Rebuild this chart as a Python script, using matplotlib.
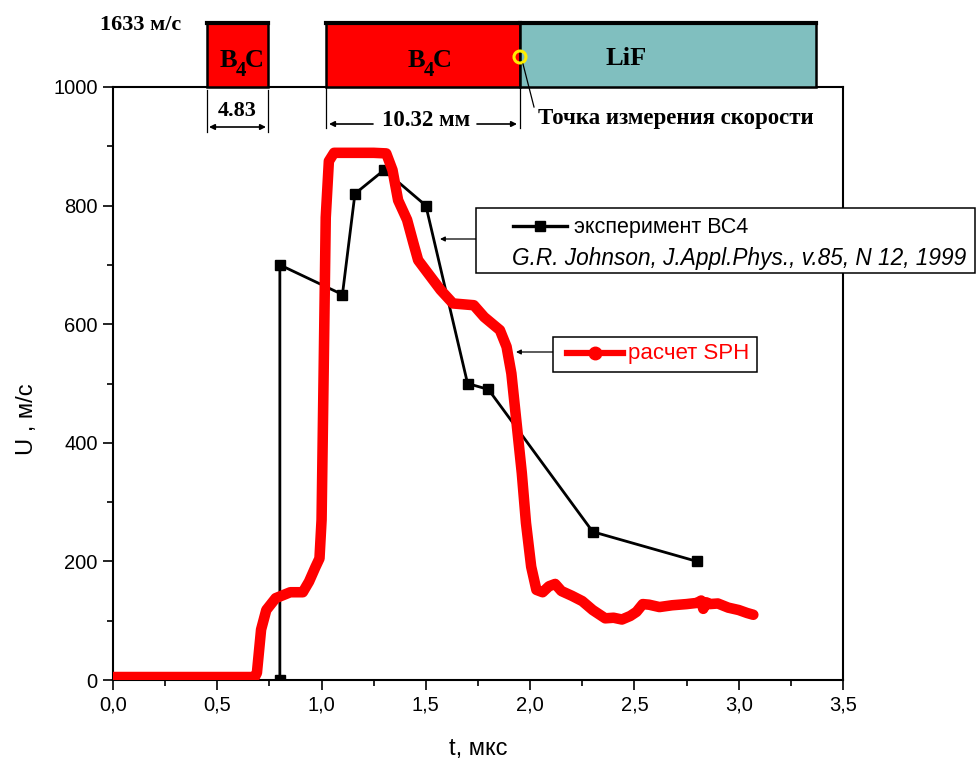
"""Скорость свободной поверхности: эксперимент BC4 и расчет SPH."""

import matplotlib
matplotlib.use("Agg")
import matplotlib.pyplot as plt
from matplotlib.patches import Rectangle, Circle, FancyArrowPatch
from matplotlib.lines import Line2D
from matplotlib.transforms import Affine2D

# experiment (G.R. Johnson, 1999)
t_exp = [0.80, 0.80, 1.10, 1.16, 1.30, 1.50, 1.70, 1.80, 2.30, 2.80]
u_exp = [0, 700, 650, 820, 860, 800, 500, 490, 250, 200]

# SPH calculation
t_sph = [0.00, 0.68, 0.69, 0.71, 0.735, 0.78, 0.85, 0.91, 0.94, 0.97,
         0.99, 1.00, 1.01, 1.02, 1.035, 1.06, 1.15, 1.25, 1.31, 1.34,
         1.367, 1.41, 1.44, 1.463, 1.51, 1.57, 1.63, 1.73, 1.78, 1.855,
         1.887, 1.91, 1.935, 1.96, 1.98, 2.005, 2.03, 2.06, 2.09, 2.12,
         2.15, 2.20, 2.25, 2.30, 2.36, 2.40, 2.44, 2.48, 2.51, 2.54,
         2.57, 2.62, 2.68, 2.75, 2.80, 2.82, 2.83, 2.845, 2.86, 2.90,
         2.95, 3.00, 3.04, 3.07]
u_sph = [5, 5, 12, 85, 118, 138, 148, 148, 166, 190,
         205, 270, 520, 780, 875, 889, 889, 889, 888, 860,
         809, 776, 737, 708, 686, 658, 635, 632, 612, 590,
         562, 517, 433, 349, 265, 191, 152, 148, 158, 162,
         150, 142, 133, 118, 104, 105, 102, 108, 115, 128,
         127, 123, 126, 128, 130, 134, 120, 131, 128, 129,
         122, 118, 113, 110]

x_ticks = [0.0, 0.5, 1.0, 1.5, 2.0, 2.5, 3.0, 3.5]
x_ticklabels = ["0,0", "0,5", "1,0", "1,5", "2,0", "2,5", "3,0", "3,5"]
y_ticks = [0, 200, 400, 600, 800, 1000]

SANS = "Liberation Sans"
SERIF = "Liberation Serif"

fig = plt.figure(figsize=(9.77, 7.67), dpi=100)
ax = fig.add_axes([113 / 977, 1 - 680 / 767, 730 / 977, 593 / 767])
# image pixel coordinates (origin top-left) for the decorations
pix = Affine2D().scale(1 / 977, -1 / 767).translate(0, 1) + fig.transFigure

ax.plot(t_exp, u_exp, color="black", lw=2.0, marker="s", ms=7, zorder=3)
ax.plot(t_sph, u_sph, color="red", lw=7.6, solid_capstyle="round",
        solid_joinstyle="round", zorder=4)

ax.set_xlim(0, 3.5)
ax.set_ylim(0, 1000)
ax.set_xticks(x_ticks)
ax.set_xticklabels(x_ticklabels)
ax.set_yticks(y_ticks)
ax.set_xticks([0.25, 0.75, 1.25, 1.75, 2.25, 2.75, 3.25], minor=True)
ax.set_yticks([100, 300, 500, 700, 900], minor=True)
ax.tick_params(which="both", direction="out", top=False, right=False,
               labelsize=14.5, width=1.2)
ax.tick_params(which="major", length=7.5)
ax.tick_params(which="minor", length=4)
for lab in ax.get_xticklabels() + ax.get_yticklabels():
    lab.set_family(SANS)
for sp in ax.spines.values():
    sp.set_linewidth(1.5)
ax.set_xlabel("t, мкс", fontsize=17, family=SANS)
ax.xaxis.set_label_coords(0.501, -0.098)
ax.set_ylabel("U , м/с", fontsize=17, family=SANS)
ax.yaxis.set_label_coords(-0.103, 0.44)

# ---- sample sketch above the plot ----
def box(x0, x1, color):
    fig.add_artist(Rectangle((x0, 87), x1 - x0, -65, transform=pix,
                             facecolor=color, edgecolor="black", lw=1.8))
    fig.add_artist(Line2D([x0, x1], [23, 23], transform=pix, color="black", lw=3))

box(207, 268, "#ff0000")
box(326, 520, "#ff0000")
box(520, 816, "#80bfbf")

def b4c(x0):
    fig.text(x0, 67, "B", transform=pix, family=SERIF, weight="bold",
             fontsize=19, va="baseline")
    fig.text(x0 + 16, 76, "4", transform=pix, family=SERIF, weight="bold",
             fontsize=15, va="baseline")
    fig.text(x0 + 25, 67, "C", transform=pix, family=SERIF, weight="bold",
             fontsize=19, va="baseline")

b4c(220)
b4c(408)
fig.text(605, 65, "LiF", transform=pix, family=SERIF, weight="bold",
         fontsize=19, va="baseline")
fig.text(100, 30, "1633 м/с", transform=pix, family=SERIF, weight="bold",
         fontsize=16, va="baseline")

# dimension lines
for xv, y0, y1 in [(207, 90, 132), (268, 90, 132), (326, 87, 128), (520, 87, 128)]:
    fig.add_artist(Line2D([xv, xv], [y0, y1], transform=pix, color="black", lw=0.9))
fig.add_artist(FancyArrowPatch((209, 127), (266, 127), transform=pix,
                               arrowstyle="<|-|>", color="black", lw=1.2,
                               mutation_scale=8, shrinkA=0, shrinkB=0))
fig.text(237, 116, "4.83", transform=pix, family=SERIF, weight="bold",
         fontsize=16, ha="center", va="baseline")
for a, b in [((373, 124), (329, 124)), ((477, 124), (517, 124))]:
    fig.add_artist(FancyArrowPatch(a, b, transform=pix, arrowstyle="-|>",
                                   color="black", lw=1.2, mutation_scale=8,
                                   shrinkA=0, shrinkB=0))
fig.text(426, 126, "10.32 мм", transform=pix, family=SERIF, weight="bold",
         fontsize=16.5, ha="center", va="baseline")

fig.add_artist(Circle((520, 57), 6, transform=pix, facecolor="none",
                      edgecolor="#ffee00", lw=2.2))
fig.add_artist(Line2D([523, 534], [64, 107], transform=pix, color="black", lw=0.9))
fig.text(538, 124, "Точка измерения скорости", transform=pix, family=SERIF,
         weight="bold", fontsize=16.5, va="baseline")

# ---- legend boxes with pointer arrows ----
fig.add_artist(Rectangle((476, 208), 499, 65, transform=pix, facecolor="white",
                         edgecolor="black", lw=1.1, zorder=5))
fig.add_artist(Line2D([513, 540, 567], [226, 226, 226], transform=pix,
                      color="black", lw=2.4, marker="s", ms=7, markevery=[1],
                      zorder=6))
fig.text(574, 227, "эксперимент ВС4", transform=pix, family=SANS, fontsize=15.5,
         va="center", zorder=6)
fig.text(512, 258, "G.R. Johnson, J.Appl.Phys., v.85, N 12, 1999", transform=pix,
         family=SANS, style="italic", fontsize=16.3, va="center", zorder=6)
fig.add_artist(FancyArrowPatch((476, 239), (440, 239), transform=pix,
                               arrowstyle="-|>", color="black", lw=0.9,
                               mutation_scale=7, shrinkA=0, shrinkB=0))

fig.add_artist(Rectangle((553, 337), 204, 35, transform=pix, facecolor="white",
                         edgecolor="black", lw=1.1, zorder=5))
fig.add_artist(Line2D([567, 595, 623], [353, 353, 353], transform=pix,
                      color="red", lw=4.5, marker="o", ms=9, markevery=[1],
                      zorder=6))
fig.text(628, 353, "расчет SPH", transform=pix, family=SANS, fontsize=16,
         color="red", va="center", zorder=6)
fig.add_artist(FancyArrowPatch((553, 352), (516, 352), transform=pix,
                               arrowstyle="-|>", color="black", lw=0.9,
                               mutation_scale=7, shrinkA=0, shrinkB=0))

fig.savefig("out.png", dpi=100)
plt.close(fig)
